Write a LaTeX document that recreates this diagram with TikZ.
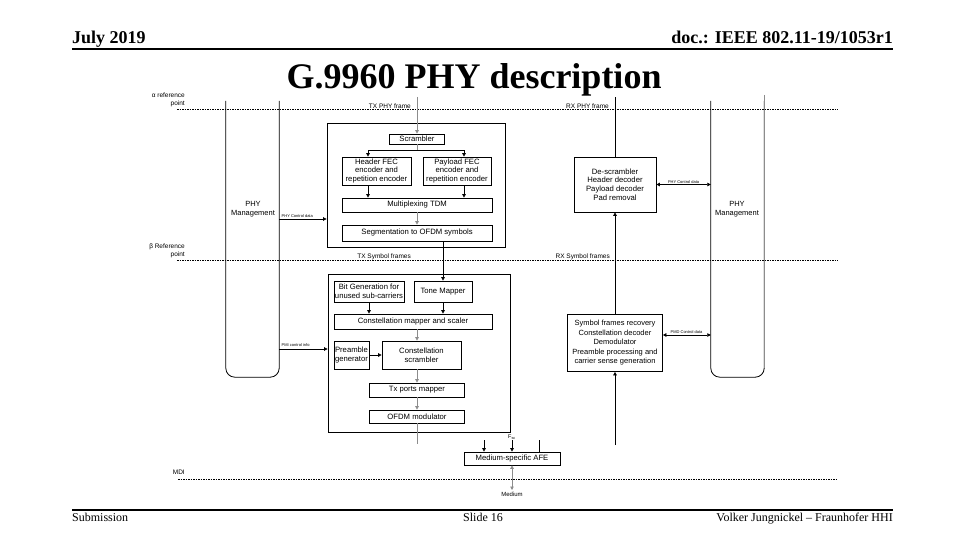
\documentclass[tikz,border=0pt]{standalone}
\usepackage{fontspec}
\setmainfont{Liberation Serif}
\newfontfamily\diagfont{Liberation Sans}
\usepackage{tikz}
\usetikzlibrary{positioning,arrows.meta,calc}
\newcommand{\fsz}[2]{\fontsize{#1}{#2}\selectfont}

\begin{document}
\begin{tikzpicture}[x=1pt,y=-1pt,
  box/.style={draw,line width=0.7pt,align=center,font=\diagfont\fsz{7.7}{8.6},inner sep=0pt},
  frame/.style={draw,line width=0.8pt,inner sep=0pt},
  mgmt/.style={minimum width=53pt,minimum height=276pt,inner sep=0pt},
  mtext/.style={font=\diagfont\fsz{7.5}{9},align=center},
  lbl/.style={font=\diagfont\fsz{6.5}{7.5},inner sep=1pt,align=right},
  tiny/.style={font=\diagfont\fsz{4}{4.5},inner sep=0.5pt},
  sig/.style={-{Triangle[length=3.5pt,width=3.5pt]},line width=0.7pt},
  gsig/.style={sig,draw=black!45},
  bidir/.style={{Triangle[length=3.5pt,width=3.5pt]}-{Triangle[length=3.5pt,width=3.5pt]},line width=0.7pt},
  refline/.style={line width=0.6pt,dash pattern=on 1.5pt off 1pt}]
\useasboundingbox (0,0) rectangle (960,540);
% slide header and footer
\node[font=\bfseries\fsz{18}{20},anchor=base west,inner sep=0pt] (date) at (72,44) {July 2019};
\node[font=\bfseries\fsz{18}{20},anchor=base east,inner sep=0pt] (doc) at (893,44) {doc.: IEEE 802.11-19/1053r1};
\draw[line width=1.5pt] (72,49) -- (893,49);
\node[font=\bfseries\fsz{36}{40},anchor=base,inner sep=0pt] (title) at (474,89) {G.9960 PHY description};
\draw[line width=1.2pt] (72,510) -- (893,510);
\node[font=\fsz{12}{14},anchor=base west,inner sep=0pt] (subm) at (72,521) {Submission};
\node[font=\fsz{12}{14},anchor=base,inner sep=0pt] (slide) at (483,521) {Slide 16};
\node[font=\fsz{12}{14},anchor=base east,inner sep=0pt] (author) at (893,521) {Volker Jungnickel -- Fraunhofer HHI};
% reference points
\draw[refline] (177,109) -- (838,109);
\draw[refline] (177,260) -- (838,260);
\draw[refline] (178,479) -- (838,479);
\node[lbl,anchor=east] (alab) at (186,100) {α reference\\point};
\node[lbl,anchor=east] (blab) at (186,251) {β Reference\\point};
\node[lbl,anchor=east] (mdi) at (186,472) {MDI};
\node[lbl,anchor=south east] (txf) at (412,110) {TX PHY frame};
\node[lbl,anchor=south east] (rxf) at (610,110) {RX PHY frame};
\node[lbl,anchor=south east] (txs) at (412,261) {TX Symbol frames};
\node[lbl,anchor=south east] (rxs) at (611,261) {RX Symbol frames};
% management columns
\node[mgmt] (lmgmt) at (252.5,239) {};
\draw[line width=0.8pt,rounded corners=9pt] (lmgmt.north west) -- (lmgmt.south west) -- (lmgmt.south east) -- (lmgmt.north east);
\node[mtext] (ltext) at (253,209) {PHY\\Management};
\node[mgmt] (rmgmt) at (737.5,239) {};
\draw[line width=0.8pt,rounded corners=9pt] (rmgmt.north west) -- (rmgmt.south west) -- (rmgmt.south east) -- (rmgmt.north east);
\draw[line width=0.9pt,black!45] ($(rmgmt.north east)+(0,-6)$) -- ($(rmgmt.south east)+(0,-9)$);
\node[mtext] (rtext) at (737,209) {PHY\\Management};
% TX, PHY frame to symbols
\node[frame,minimum width=178pt,minimum height=124pt] (txup) at (416,185) {};
\node[box,minimum width=55pt,minimum height=10pt] (scr) at (417,139) {Scrambler};
\node[box,minimum width=69pt,minimum height=28pt] (hfec) at (376.5,171) {Header FEC\\encoder and\\repetition encoder};
\node[box,minimum width=68pt,minimum height=28pt] (pfec) at (457,171) {Payload FEC\\encoder and\\repetition encoder};
\node[box,minimum width=150pt,minimum height=14pt] (mux) at (417,205) {Multiplexing TDM};
\node[box,minimum width=150pt,minimum height=16pt] (seg) at (417,233) {Segmentation to OFDM symbols};
\coordinate (txin) at (417,97);
\coordinate (sj) at (417,150);
\coordinate (hj) at (368,150);
\coordinate (pj) at (464,150);
\draw[gsig] (txin) -- (scr.north);
\draw[line width=0.7pt,black!45] (scr.south) -- (sj);
\draw[sig] (sj) -- (hj) -- (hj |- hfec.north);
\draw[sig] (sj) -- (pj) -- (pj |- pfec.north);
\draw[sig] (hj |- hfec.south) -- (hj |- mux.north);
\draw[sig] (pj |- pfec.south) -- (pj |- mux.north);
\draw[gsig] (mux) -- (seg);
% TX, symbols to OFDM
\node[frame,minimum width=182pt,minimum height=158pt] (txlo) at (419,353) {};
\node[box,minimum width=70pt,minimum height=21pt] (bitg) at (369,291.5) {Bit Generation for\\unused sub-carriers};
\node[box,minimum width=58pt,minimum height=21pt] (tone) at (443,291.5) {Tone Mapper};
\node[box,minimum width=158pt,minimum height=15pt] (cmap) at (413,321.5) {Constellation mapper and scaler};
\node[box,minimum width=35pt,minimum height=28pt] (preg) at (351.5,355) {Preamble\\generator};
\node[box,minimum width=79pt,minimum height=28pt] (cscr) at (421.5,355) {Constellation\\scrambler};
\node[box,minimum width=95pt,minimum height=14pt] (port) at (417,390) {Tx ports mapper};
\node[box,minimum width=95pt,minimum height=13pt] (ofdm) at (417,416.5) {OFDM modulator};
\coordinate (cx) at (417,0);
\coordinate (txout) at (417,444);
\draw[sig] (seg.south -| tone.north) -- (tone.north);
\draw[sig] (bitg) -- (bitg |- cmap.north);
\draw[sig] (tone) -- (tone |- cmap.north);
\draw[gsig] (cmap.south -| cx) -- (cscr.north -| cx);
\draw[sig] (preg) -- (cscr);
\draw[gsig] (cscr.south -| cx) -- (port.north -| cx);
\draw[gsig] (port) -- (ofdm);
\draw[line width=0.7pt,black!45] (ofdm) -- (txout);
% control from management
\draw[sig] (lmgmt.east |- 0,219) -- (txup.west |- 0,219);
\node[tiny,anchor=south west] (pcd) at (281,218) {PHY Control data};
\draw[sig] (lmgmt.east |- 0,349) -- (txlo.west |- 0,349);
\node[tiny,anchor=south west] (pmi) at (281,347) {PMI control info};
% RX
\node[box,minimum width=82pt,minimum height=55pt] (rxup) at (615,184.5) {De-scrambler\\Header decoder\\Payload decoder\\Pad removal};
\node[box,minimum width=95pt,minimum height=57pt,font=\diagfont\fsz{7.5}{9.5}] (rxlo) at (615,343) {Symbol frames recovery\\Constellation decoder\\Demodulator\\Preamble processing and\\carrier sense generation};
\coordinate (rxout) at (615,97);
\coordinate (rxin) at (615,445);
\draw[line width=0.7pt] (rxup) -- (rxout);
\draw[sig] (rxlo) -- (rxup);
\draw[sig] (rxin) -- (rxlo);
\draw[bidir] (rxup.east) -- (rxup.east -| rmgmt.west);
\node[tiny,anchor=south] (rpcd) at ($(rxup.east)!0.5!(rxup.east -| rmgmt.west)$) {PHY Control data};
\draw[bidir] (rxlo.east |- 0,335) -- (rmgmt.west |- 0,335);
\node[tiny,anchor=south] (rpmd) at (686.5,334) {PMD Control data};
% analog front end
\node[box,minimum width=96pt,minimum height=13pt] (afe) at (512,458.5) {Medium-specific AFE};
\coordinate (a1) at (484,440);
\coordinate (a2) at (512,440);
\coordinate (a3) at (539,440);
\coordinate (med) at (512,490);
\draw[sig] (a1) -- (a1 |- afe.north);
\draw[sig] (a2) -- (afe.north);
\draw[line width=0.7pt] (a3) -- (a3 |- afe.north);
\node[font=\diagfont\fsz{5.5}{6},anchor=south,inner sep=0.5pt] (fsc) at (a2) {F\textsubscript{sc}};
\draw[bidir,draw=black!45] (afe) -- (med);
\node[font=\diagfont\fsz{6}{7},anchor=north,inner sep=2pt] (medium) at (med) {Medium};
\end{tikzpicture}
\end{document}
